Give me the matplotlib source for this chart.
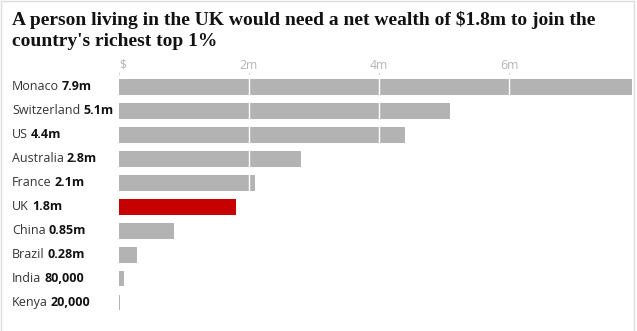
import matplotlib
matplotlib.use("Agg")
import matplotlib.pyplot as plt
from matplotlib.patches import Rectangle

# data
countries = ["Monaco", "Switzerland", "US", "Australia", "France",
             "UK", "China", "Brazil", "India", "Kenya"]
wealth_m = [7.9, 5.1, 4.4, 2.8, 2.1, 1.8, 0.85, 0.28, 0.08, 0.02]
value_labels = ["7.9m", "5.1m", "4.4m", "2.8m", "2.1m",
                "1.8m", "0.85m", "0.28m", "80,000", "20,000"]
tick_vals = [0, 2, 4, 6]
tick_lbls = ["$", "2m", "4m", "6m"]
highlight = "UK"

title = ("A person living in the UK would need a net wealth of $1.8m to join the\n"
         "country's richest top 1%")

W, H = 637, 331
fig = plt.figure(figsize=(W / 100, H / 100), dpi=100, facecolor="white")

# faint frame round the graphic (top, left, right)
fig.add_artist(Rectangle((1.5 / W, -0.1), 632 / W, 1.1 - 1.5 / H,
                         transform=fig.transFigure, fill=False,
                         edgecolor="#dcdcdc", linewidth=1))

fig.text(12 / W, 1 - 11 / H, title, ha="left", va="top",
         family="Liberation Serif", weight="bold", fontsize=14,
         color="#121212", linespacing=1.3)

ax = fig.add_axes([119 / W, 1 - 314.5 / H, 513.5 / W, (314.5 - 75) / H])
y = list(range(len(countries)))
colors = ["#c70000" if c == highlight else "#b3b3b3" for c in countries]
ax.barh(y, wealth_m, height=0.66, color=colors, zorder=2)
for v in tick_vals[1:]:
    ax.axvline(v, color="white", linewidth=1, zorder=3)

ax.set_xlim(0, 7.9)
ax.set_ylim(len(countries) - 0.5, -0.5)
for s in ax.spines.values():
    s.set_visible(False)
ax.set_yticks([])
ax.xaxis.tick_top()
ax.set_xticks(tick_vals)
ax.set_xticklabels(tick_lbls, family="Open Sans", fontsize=8.8, color="#b5b5b5")
ax.tick_params(axis="x", length=2, color="#d8d8d8", pad=0.3)
ax.get_xticklabels()[0].set_ha("left")

# country labels: name regular, value bold
for yi, name, val in zip(y, countries, value_labels):
    t = ax.annotate(name, xy=(12 / W, yi), xycoords=("figure fraction", "data"),
                    ha="left", va="center", family="Open Sans", fontsize=9,
                    color="#333333")
    ax.annotate(val, xy=(1, 0.5), xycoords=t, xytext=(2.2, 0),
                textcoords="offset points", ha="left", va="center",
                family="Open Sans", fontsize=9, weight="bold", color="#121212")

fig.savefig("out.png", dpi=100, facecolor="white")
